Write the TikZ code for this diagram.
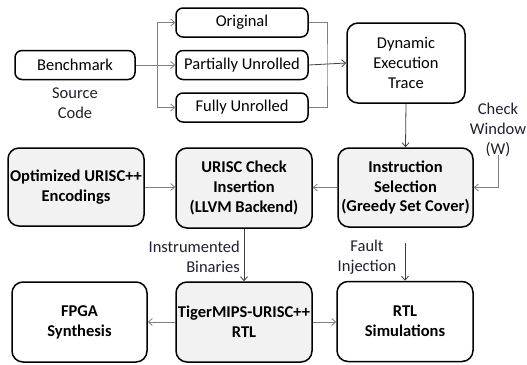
\documentclass[tikz,border=0pt]{standalone}
\usepackage{fontspec}
\setmainfont{Carlito}
\usetikzlibrary{arrows.meta}
\definecolor{boxfill}{HTML}{F2F2F2}
\definecolor{labtext}{HTML}{202030}
\begin{document}
\begin{tikzpicture}[x=1pt,y=-1pt,
  fsz/.style={font=\fontsize{16.5}{19.8}\selectfont},
  bsz/.style={font=\fontsize{16.5}{19.8}\selectfont\bfseries},
  smallbox/.style={draw=black,line width=1.5pt,rounded corners=7pt,fsz,align=center,inner sep=0pt,minimum height=29pt},
  bigbox/.style={draw=black,line width=1.5pt,rounded corners=11pt,fsz,align=center,inner sep=0pt,minimum height=79pt,minimum width=135pt},
  grayfill/.style={fill=boxfill},
  lab/.style={fsz,text=labtext,align=center,inner sep=0pt},
  garrow/.style={draw=gray,line width=0.8pt,-{Straight Barb[length=4pt,width=7pt]}},
  darrow/.style={draw=black!75,line width=0.8pt,-{Straight Barb[length=4pt,width=7pt]}},
  gline/.style={draw=gray,line width=0.8pt}]
\useasboundingbox (0,0) rectangle (527,364);
% top row
\node[smallbox,minimum width=120pt] (bench) at (75,65) {Benchmark};
\node[lab] (src) at (75,103) {Source\\Code};
\node[smallbox,minimum width=132pt] (orig) at (242,22.5) {Original};
\node[smallbox,minimum width=132pt] (part) at (242,65) {Partially Unrolled};
\node[smallbox,minimum width=132pt] (full) at (242,107.5) {Fully Unrolled};
\node[bigbox,minimum width=118pt,minimum height=80pt] (dyn) at (406,63) {Dynamic\\Execution\\Trace};
% middle row
\node[bigbox,grayfill,minimum width=136pt,minimum height=78pt,bsz] (opt) at (76,187) {Optimized URISC++\\Encodings};
\node[bigbox,grayfill,minimum width=136pt,minimum height=80pt,bsz] (chk) at (244,188) {URISC Check\\Insertion\\(LLVM Backend)};
\node[bigbox,grayfill,minimum width=135pt,minimum height=79pt,bsz] (isel) at (405.5,187.5) {Instruction\\Selection\\(Greedy Set Cover)};
\node[lab] (cw) at (498,130) {Check\\Window\\(W)};
% bottom row
\node[bigbox,minimum width=135pt,minimum height=80pt,bsz] (fpga) at (79.5,322) {FPGA\\Synthesis};
\node[bigbox,grayfill,minimum width=136pt,minimum height=80pt,bsz] (tig) at (244,322) {TigerMIPS-URISC++\\RTL};
\node[bigbox,minimum width=136pt,minimum height=80pt,bsz] (rtl) at (405,321.5) {RTL\\Simulations};
\node[lab,align=right,anchor=east] (inst) at (240,257) {Instrumented\\Binaries};
\node[lab] (fault) at (367,257) {Fault\\Injection};
% connectors
\coordinate (lb) at (157,65);
\coordinate (rb) at (327,65);
\draw[gline] (bench.east) -- (lb);
\draw[garrow] (lb) |- (orig.west);
\draw[garrow] (lb) -- (part.west);
\draw[garrow] (lb) |- (full.west);
\draw[gline] (orig.east) -| (rb) |- (full.east);
\draw[darrow] (part.east) -- (dyn.west);
\draw[darrow] (dyn.south) -- (isel.north);
\coordinate (cwtop) at (498,155);
\draw[garrow] (cwtop) |- (isel.east);
\draw[garrow] (opt.east) -- (opt.east -| chk.west);
\draw[garrow] (isel.west) -- (isel.west -| chk.east);
\draw[darrow] (chk.south) -- (tig.north);
\coordinate (fitop) at (405,243);
\draw[darrow] (fitop) -- (rtl.north);
\draw[garrow] (tig.west) -- (tig.west -| fpga.east);
\draw[garrow] (tig.east) -- (tig.east -| rtl.west);
\end{tikzpicture}
\end{document}
